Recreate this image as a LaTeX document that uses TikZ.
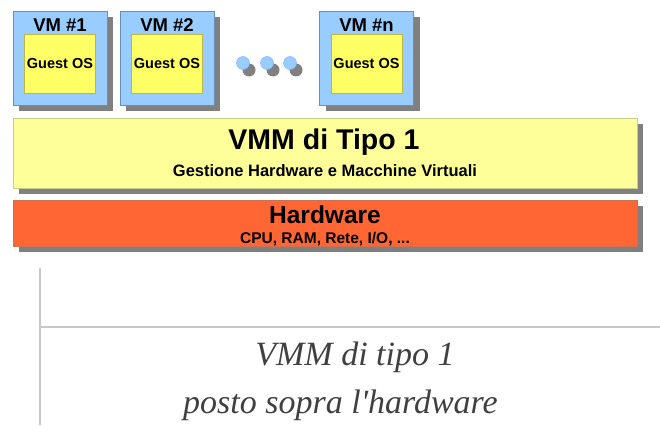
\documentclass[tikz,border=0pt]{standalone}
\usepackage{fontspec}
\setmainfont{Liberation Serif}
\setsansfont{Liberation Sans}
\usetikzlibrary{shadows}
\definecolor{vmblue}{HTML}{99CCFF}
\definecolor{vmborder}{HTML}{6A8FB5}
\definecolor{guestyellow}{HTML}{FFFF66}
\definecolor{vmmyellow}{HTML}{FFFF99}
\definecolor{hwred}{HTML}{FF6633}
\definecolor{shadowgray}{HTML}{808080}
\definecolor{linegray}{HTML}{C8C8C8}
\begin{document}
\begin{tikzpicture}[x=1pt, y=-1pt, font=\sffamily\bfseries,
  shdw/.style={general shadow={fill=shadowgray, shadow xshift=#1, shadow yshift=-#1}},
  vm/.style={draw=vmborder, fill=vmblue, minimum width=94pt, minimum height=94pt,
             inner sep=0pt, shdw=6pt},
  guest/.style={draw=olive!60, fill=guestyellow, minimum width=71pt, minimum height=59pt,
                inner sep=0pt, font=\sffamily\bfseries\fontsize{14.5}{16}\selectfont},
  vmlabel/.style={inner sep=0pt, font=\sffamily\bfseries\fontsize{18.5}{20}\selectfont},
  dot/.style={circle, draw=vmblue!85!blue, fill=vmblue, minimum size=13pt, inner sep=0pt,
              general shadow={fill=shadowgray, shadow xshift=6pt, shadow yshift=-7pt}},
  layer/.style={draw=#1!60!gray, fill=#1, minimum width=624pt, inner sep=0pt, shdw=6pt},
  sotto/.style={font=\rmfamily\itshape\fontsize{34}{40}\selectfont, text=black!75}
]
  \useasboundingbox (0,0) rectangle (660,425);
  % macchine virtuali
  \node[vm] (vm1) at (60,58) {};
  \node[vm] (vm2) at (167,58) {};
  \node[vm] (vmn) at (366.5,58) {};
  \node[vmlabel] at (60,25) {VM \#1};
  \node[vmlabel] at (167,25) {VM \#2};
  \node[vmlabel] at (366.5,25) {VM \#n};
  \node[guest] (os1) at (60,63.5) {Guest OS};
  \node[guest] (os2) at (167,63.5) {Guest OS};
  \node[guest] (osn) at (366.5,63.5) {Guest OS};
  % puntini
  \foreach \x in {243,267,290}
    \node[dot] at (\x,63) {};
  % strati
  \node[layer=vmmyellow, minimum height=70pt] (vmm) at (325,153) {};
  \node[font=\sffamily\bfseries\fontsize{28.5}{30}\selectfont] at (324,142.5) {VMM di Tipo 1};
  \node[font=\sffamily\bfseries\fontsize{16.5}{18}\selectfont] at (325,171) {Gestione Hardware e Macchine Virtuali};
  \node[layer=hwred, minimum height=46pt] (hw) at (325,223) {};
  \node[font=\sffamily\bfseries\fontsize{24.5}{27}\selectfont] at (325,215) {Hardware};
  \node[font=\sffamily\bfseries\fontsize{15.5}{17}\selectfont] at (325,239.5) {CPU, RAM, Rete, I/O, ...};
  % didascalia
  \draw[linegray, line width=1.5pt] (40,268) -- (40,425);
  \draw[linegray, line width=1.5pt] (40,327) -- (660,327);
  \node[sotto, anchor=base] (cap1) at (355,365) {VMM di tipo 1};
  \node[sotto, anchor=base] (cap2) at (340.5,413) {posto sopra l\textquotesingle hardware};
\end{tikzpicture}
\end{document}
